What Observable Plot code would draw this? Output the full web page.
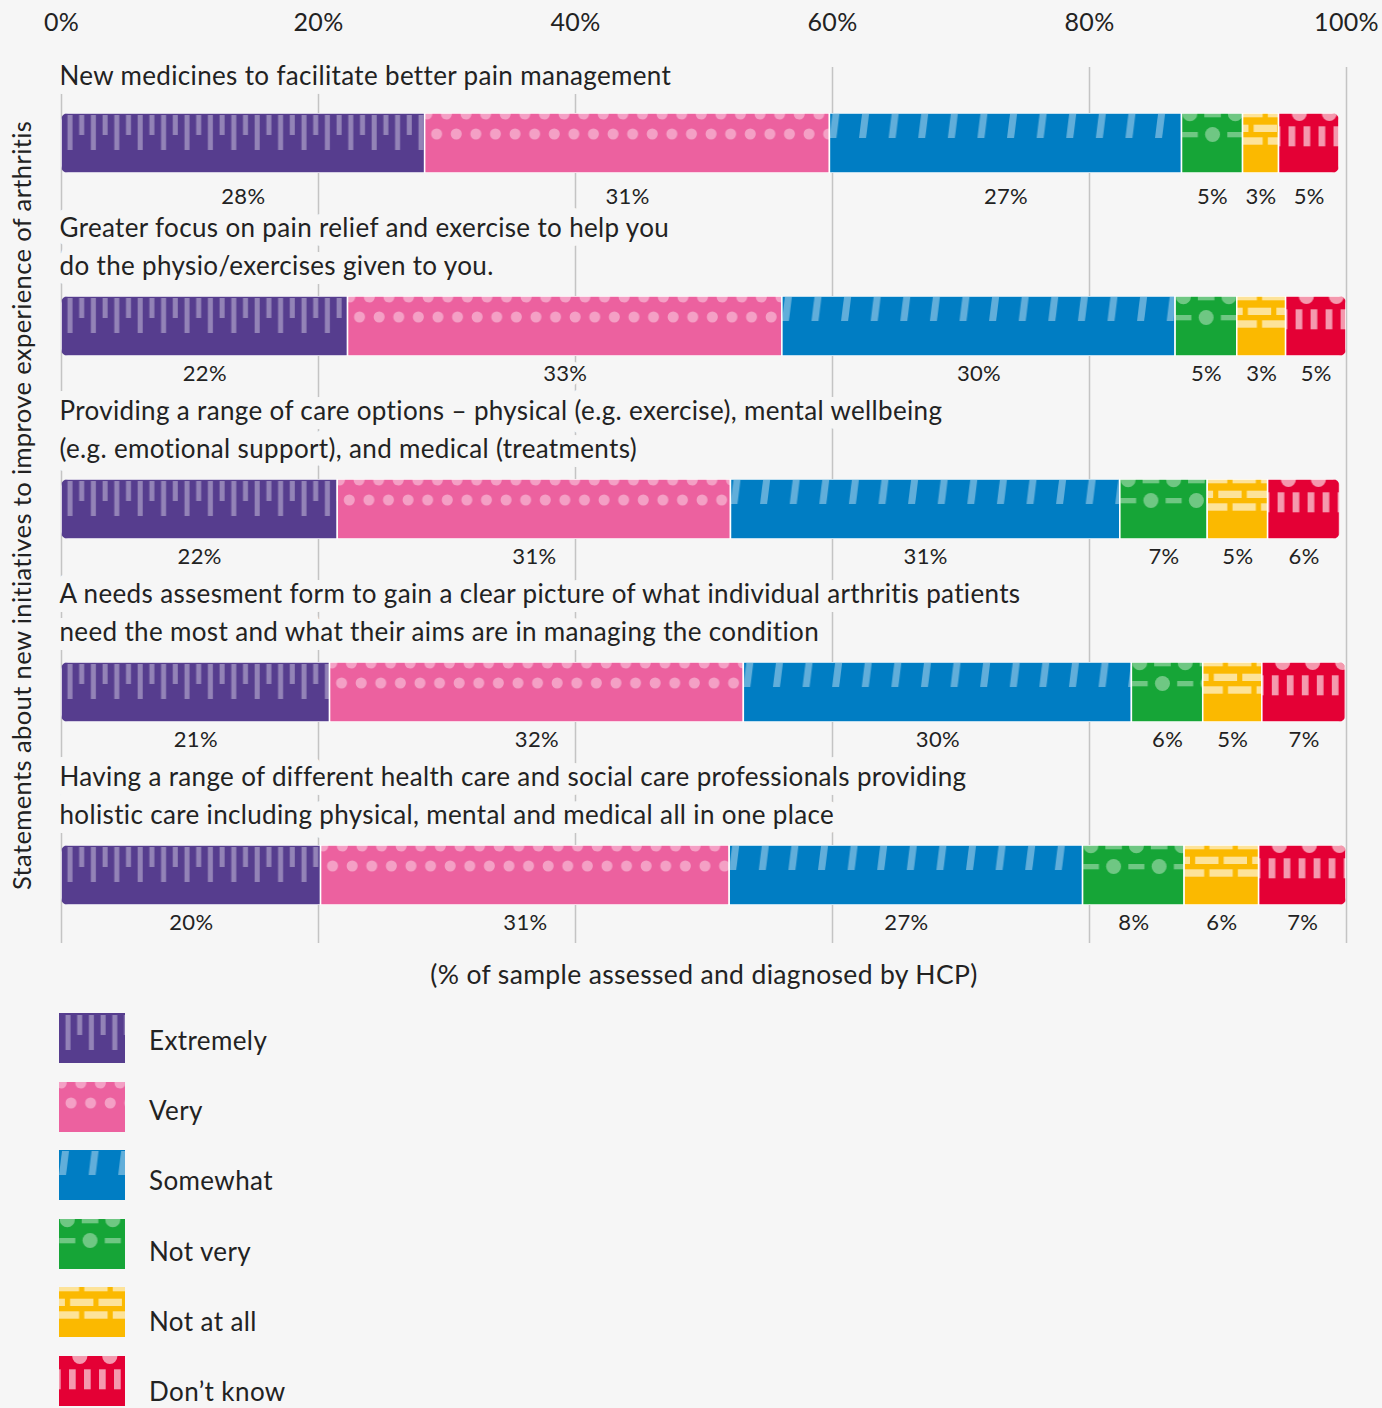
<!DOCTYPE html>
<html><head><meta charset="utf-8">
<script src="https://cdn.jsdelivr.net/npm/d3@7"></script>
<script src="https://cdn.jsdelivr.net/npm/@observablehq/plot@0.6"></script>
<style>
html,body{margin:0;padding:0;background:#f6f6f6;}
body{width:1382px;height:1408px;overflow:hidden;font-family:Lato, sans-serif;color:#222;}
#chart svg{display:block;}
#legend{margin-left:59px;margin-top:13px;}
.item{display:flex;align-items:center;height:50px;margin-bottom:18.6px;}
.item svg{display:block;flex:none;}
.item span{margin-left:24px;font-size:26px;letter-spacing:0.4px;position:relative;}
</style></head><body><div id="chart"></div><div id="legend"></div>
<script>
// ---- data ----
const statements = [
  "New medicines to facilitate better pain management",
  "Greater focus on pain relief and exercise to help you\ndo the physio/exercises given to you.",
  "Providing a range of care options – physical (e.g. exercise), mental wellbeing\n(e.g. emotional support), and medical (treatments)",
  "A needs assesment form to gain a clear picture of what individual arthritis patients\nneed the most and what their aims are in managing the condition",
  "Having a range of different health care and social care professionals providing\nholistic care including physical, mental and medical all in one place"
];
const responses = ["Extremely", "Very", "Somewhat", "Not very", "Not at all", "Don’t know"];
const colors = ["#563D8E", "#EC619F", "#007DC3", "#16A537", "#FBB900", "#E40035"];

// segment widths (% of sample)
const extremely = [28.3, 22.3, 21.5, 20.9, 20.2];
const very      = [31.5, 33.8, 30.6, 32.2, 31.8];
const somewhat  = [27.4, 30.6, 30.3, 30.2, 27.5];
const notVery   = [4.75, 4.8, 6.8, 5.55, 7.9];
const notAtAll  = [2.8, 3.8, 4.7, 4.6, 5.8];
const dontKnow  = [4.7, 4.7, 5.6, 6.5, 6.8];

// printed labels
const extremelyLabels = [28, 22, 22, 21, 20];
const veryLabels      = [31, 33, 31, 32, 31];
const somewhatLabels  = [27, 30, 31, 30, 27];
const notVeryLabels   = [5, 5, 7, 6, 8];
const notAtAllLabels  = [3, 3, 5, 5, 6];
const dontKnowLabels  = [5, 5, 6, 7, 7];

const xTicks = [0, 20, 40, 60, 80, 100];
const xTitle = "(% of sample assessed and diagnosed by HCP)";
const yTitle = "Statements about new initiatives to improve experience of arthritis";

const series = [extremely, very, somewhat, notVery, notAtAll, dontKnow];
const seriesLabels = [extremelyLabels, veryLabels, somewhatLabels, notVeryLabels, notAtAllLabels, dontKnowLabels];
const data = statements.flatMap((s, i) => responses.map((r, j) => ({
  row: i, statement: s, response: r, value: series[j][i], label: seriesLabels[j][i] + "%"
})));

const BG = "#f6f6f6";

// ---- pattern styles (decoration) ----
const patternSpecs = [
  {w: 23.4, a: 0.36, shapes: [["rect", 6.5, 2, 5, 35], ["rect", 18.2, 2, 5, 20]]},
  {w: 19.6, a: 0.4, shapes: [["circle", 12, 21, 5.5], ["circle", 2.2, 1, 5.5]]},
  {w: 29.6, a: 0.38, shapes: [["poly", "3,1 10,1 7,25 0,25"]]},
  {w: 45.5, a: 0.38, shapes: [["circle", 8.3, 0.8, 7.5], ["rect", 0.3, 19, 16, 5.3], ["rect", 22.75, 0, 16.6, 4.3], ["circle", 31.05, 21.5, 7.5]]},
  {w: 28.5, a: 0.6, shapes: [["rect", -3.2, 0, 23.3, 4.3], ["rect", 11.1, 11.7, 23.3, 7.3], ["rect", -3.2, 24.3, 23.3, 7.4]]},
  {w: 30, a: 0.6, shapes: [["rect", 10, 13.3, 6.7, 20], ["rect", 25, 13.3, 6.7, 20], ["circle", 20.8, 0.5, 7.5]]}
];
function addPattern(defs, id, idx, x0, y0, h) {
  const spec = patternSpecs[idx];
  const p = defs.append("pattern").attr("id", id).attr("patternUnits", "userSpaceOnUse")
    .attr("x", x0).attr("y", y0).attr("width", spec.w).attr("height", h);
  const g = p.append("g").attr("fill", `rgba(255,255,255,${spec.a})`);
  for (const off of [-spec.w, 0, spec.w]) {
    for (const s of spec.shapes) {
      if (s[0] === "rect") g.append("rect").attr("x", s[1] + off).attr("y", s[2]).attr("width", s[3]).attr("height", s[4]);
      else if (s[0] === "circle") g.append("circle").attr("cx", s[1] + off).attr("cy", s[2]).attr("r", s[3]);
      else g.append("polygon").attr("points", s[1]).attr("transform", `translate(${off},0)`);
    }
  }
}

const firstRow = (d) => d === statements[0];
const otherRows = (d) => d !== statements[0];
const stmtOpts = {x: 0, y: d => d, text: d => d, textAnchor: "start", lineAnchor: "bottom",
  dx: -2, fontSize: 26, lineHeight: 1.46, fill: "#222", stroke: BG, strokeWidth: 18};
const pctOpts = {x: "value", y: "statement", text: "label", fontSize: 22, fill: "#222", stroke: BG, strokeWidth: 8};

// ---- chart ----
const chart = Plot.plot({
  width: 1382, height: 1000,
  marginLeft: 61, marginRight: 36, marginTop: 67, marginBottom: 57,
  style: {background: "transparent", fontFamily: "Lato, sans-serif", fontSize: "25px", color: "#222", overflow: "visible", letterSpacing: "0.35px"},
  x: {domain: [0, 100], axis: "top", ticks: xTicks, tickFormat: d => d + "%", tickSize: 0, tickPadding: 37, label: null},
  y: {domain: statements, range: [111, 906], paddingInner: 0.6735, paddingOuter: 0, axis: null},
  color: {domain: responses, range: colors},
  marks: [
    Plot.ruleX(xTicks, {stroke: "#c4c4c4", strokeWidth: 1.5}),
    Plot.text(statements.filter(firstRow), {...stmtOpts, dy: -59}),
    Plot.text(statements.filter(otherRows), {...stmtOpts, dy: -52}),
    Plot.barX(data, Plot.stackX({x: "value", y: "statement", fill: "response", stroke: "#fff", strokeWidth: 1.5})),
    Plot.text(data, Plot.stackX({...pctOpts, dy: 53, filter: d => d.row === 0})),
    Plot.text(data, Plot.stackX({...pctOpts, dy: 47, filter: d => d.row !== 0})),
    Plot.text([xTitle], {frameAnchor: "bottom", dy: 40, fontSize: 26.5, fill: "#222"}),
    Plot.text([yTitle], {frameAnchor: "left", textAnchor: "middle", rotate: -90, dx: -39, fontSize: 25.6, fill: "#222"})
  ]
});
document.getElementById("chart").appendChild(chart);

// ---- rounded row ends + pattern overlays ----
const svg = d3.select(chart);
const defs = svg.insert("defs", ":first-child");
const colorIndex = new Map(colors.map((c, i) => [c.toLowerCase(), i]));
const barG = svg.select('g[aria-label="bar"]');
const overlayG = svg.insert("g", () => barG.node().nextSibling).attr("transform", barG.attr("transform"));
const rects = barG.selectAll("rect").nodes();
const rows = d3.group(rects, r => r.getAttribute("y"));
let k = 0;
for (const [yv, rs] of rows) {
  const x0 = d3.min(rs, r => +r.getAttribute("x"));
  const x1 = d3.max(rs, r => +r.getAttribute("x") + +r.getAttribute("width"));
  const h = +rs[0].getAttribute("height");
  const cid = "clip-row-" + k;
  defs.append("clipPath").attr("id", cid).append("rect")
    .attr("x", x0).attr("y", yv).attr("width", x1 - x0).attr("height", h).attr("rx", 7);
  rs.forEach((r, j) => {
    r.setAttribute("clip-path", `url(#${cid})`);
    const idx = colorIndex.get((r.getAttribute("fill") || "").toLowerCase());
    if (idx === undefined) return;
    const pid = `pat-${k}-${j}`;
    const rx = +r.getAttribute("x"), rw = +r.getAttribute("width");
    addPattern(defs, pid, idx, rx, +yv, h);
    overlayG.append("rect").attr("x", rx).attr("y", yv).attr("width", rw).attr("height", h)
      .attr("fill", `url(#${pid})`).attr("stroke", "none").attr("clip-path", `url(#${cid})`);
  });
  k++;
}

// ---- legend ----
const legend = d3.select("#legend");
responses.forEach((r, i) => {
  const item = legend.append("div").attr("class", "item");
  const s = item.append("svg").attr("width", 66).attr("height", 50);
  addPattern(s.append("defs"), "leg-" + i, i, 0, 0, 50);
  s.append("rect").attr("width", 66).attr("height", 50).attr("fill", colors[i]);
  s.append("rect").attr("width", 66).attr("height", 50).attr("fill", `url(#leg-${i})`);
  item.append("span").style("top", (2 + 1.6 * i) + "px").text(r);
});
</script></body></html>
